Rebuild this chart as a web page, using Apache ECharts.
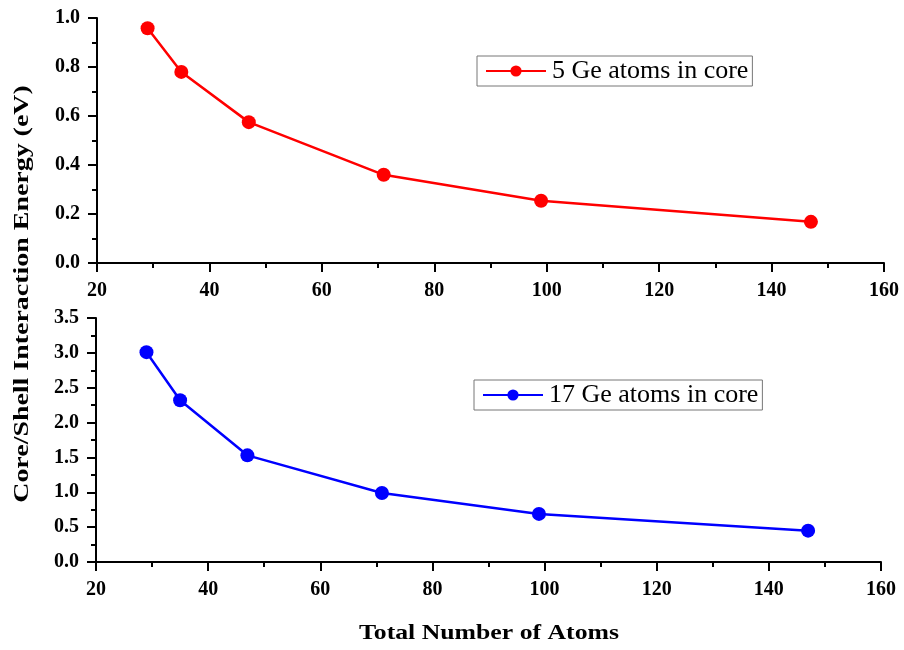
<!DOCTYPE html>
<html>
<head>
<meta charset="utf-8">
<script src="https://cdn.jsdelivr.net/npm/echarts@6/dist/echarts.min.js"></script>
<style>
html, body { margin: 0; padding: 0; background: #fff; }
#main { width: 904px; height: 650px; }
</style>
</head>
<body>
<div id="main"></div>
<script>
var myChart = echarts.init(document.getElementById('main'));

// total number of atoms
var atoms = [29, 35, 47, 71, 99, 147];
// interaction energy (eV)
var ge5 = [0.958, 0.78, 0.575, 0.36, 0.254, 0.168];
var ge17 = [3.01, 2.32, 1.53, 0.99, 0.69, 0.45];
var names = ['5 Ge atoms in core', '17 Ge atoms in core'];

function pairs(xs, ys) {
    var out = [];
    for (var i = 0; i < xs.length; i++) out.push([xs[i], ys[i]]);
    return out;
}

var serif = '"Liberation Serif", "Times New Roman", serif';
var tickLabel = { color: '#000', fontFamily: serif, fontWeight: 'bold', fontSize: 20, margin: 18 };
var axLine = { show: true, onZero: false, lineStyle: { color: '#000', width: 2 } };
var axTick = { show: true, length: 9, lineStyle: { color: '#000', width: 2 } };
var minor = { show: true, splitNumber: 2, length: 5, lineStyle: { color: '#000', width: 2 } };

function xAxis(idx) {
    return {
        type: 'value', gridIndex: idx, min: 20, max: 160, interval: 20,
        axisLine: axLine, axisTick: axTick, minorTick: minor,
        axisLabel: tickLabel, splitLine: { show: false }
    };
}
function yAxis(idx, max, step) {
    return {
        type: 'value', gridIndex: idx, min: 0, max: max, interval: step,
        axisLine: axLine, axisTick: axTick, minorTick: minor, splitLine: { show: false },
        axisLabel: Object.assign({}, tickLabel, { margin: 17, formatter: function (v) { return v.toFixed(1); } })
    };
}
function legend(name, left, top) {
    return {
        data: [name], left: left, top: top, itemWidth: 60, itemHeight: 14, itemGap: 0,
        borderColor: '#777', borderWidth: 1, padding: [2, 4, 2, 8],
        textStyle: { fontFamily: serif, fontSize: 26, color: '#000', padding: [0, 0, 0, 1] }
    };
}

option = {
    backgroundColor: '#fff',
    animation: false,
    grid: [
        { left: 97, right: 20, top: 18, height: 245 },
        { left: 96, right: 23, top: 318, height: 244 }
    ],
    xAxis: [xAxis(0), xAxis(1)],
    yAxis: [yAxis(0, 1, 0.2), yAxis(1, 3.5, 0.5)],
    legend: [legend(names[0], 477, 56), legend(names[1], 474, 380)],
    series: [
        {
            name: names[0], type: 'line', xAxisIndex: 0, yAxisIndex: 0,
            data: pairs(atoms, ge5),
            symbol: 'circle', symbolSize: 14,
            itemStyle: { color: '#ff0000' },
            lineStyle: { color: '#ff0000', width: 2.5 }
        },
        {
            name: names[1], type: 'line', xAxisIndex: 1, yAxisIndex: 1,
            data: pairs(atoms, ge17),
            symbol: 'circle', symbolSize: 14,
            itemStyle: { color: '#0000ff' },
            lineStyle: { color: '#0000ff', width: 2.5 }
        }
    ],
    graphic: [
        {
            type: 'text', x: 23, y: 294, rotation: Math.PI / 2, scaleX: 1.33,
            style: {
                text: 'Core/Shell Interaction Energy (eV)', align: 'center', verticalAlign: 'middle',
                fontFamily: serif, fontWeight: 'bold', fontSize: 21, fill: '#000'
            }
        },
        {
            type: 'text', x: 489, y: 633, scaleX: 1.17,
            style: {
                text: 'Total Number of Atoms', align: 'center', verticalAlign: 'middle',
                fontFamily: serif, fontWeight: 'bold', fontSize: 22, fill: '#000'
            }
        }
    ]
};

myChart.setOption(option);
</script>
</body>
</html>
